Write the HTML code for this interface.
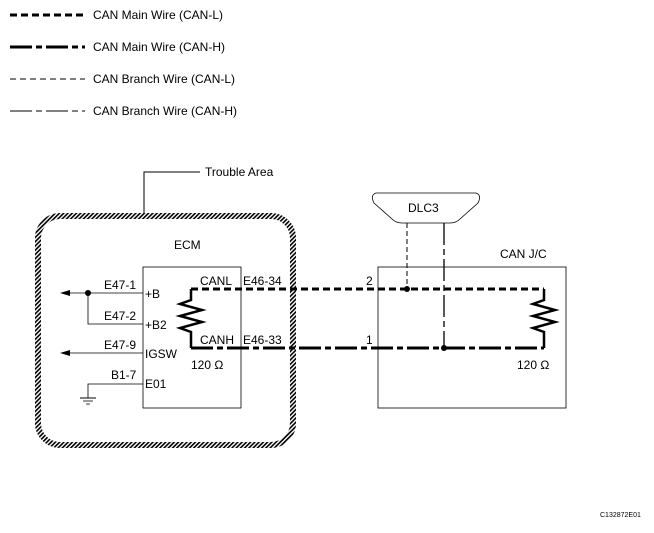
<!DOCTYPE html>
<html><head><style>body{margin:0;background:#fff}</style></head><body>
<svg width="654" height="528" viewBox="0 0 654 528" xmlns="http://www.w3.org/2000/svg" font-family="Liberation Sans, sans-serif" font-size="12" fill="#000">
<defs>
<pattern id="h" width="3" height="3" patternUnits="userSpaceOnUse" patternTransform="rotate(45)"><rect width="1.6" height="3" fill="#000"/></pattern>
</defs>
<!-- legend -->
<line x1="10" y1="15" x2="85" y2="15" stroke="#000" stroke-width="3" stroke-dasharray="7,4"/>
<text x="93" y="19">CAN Main Wire (CAN-L)</text>
<line x1="10" y1="47" x2="85" y2="47" stroke="#000" stroke-width="3" stroke-dasharray="22,4,6,4"/>
<text x="93" y="51">CAN Main Wire (CAN-H)</text>
<line x1="10" y1="79" x2="85" y2="79" stroke="#000" stroke-width="1" stroke-dasharray="6,4"/>
<text x="93" y="83">CAN Branch Wire (CAN-L)</text>
<line x1="10" y1="111" x2="85" y2="111" stroke="#000" stroke-width="1" stroke-dasharray="22,4,6,4"/>
<text x="93" y="115">CAN Branch Wire (CAN-H)</text>
<!-- trouble area -->
<rect x="38" y="216" width="255" height="229" rx="22" fill="none" stroke="url(#h)" stroke-width="6"/>
<polyline points="144,213 144,172 200,172" fill="none" stroke="#000"/>
<text x="205" y="176">Trouble Area</text>
<text x="174" y="249">ECM</text>
<rect x="143" y="267" width="98" height="141" fill="none" stroke="#000" stroke-width="0.8"/>
<!-- left wires -->
<line x1="62" y1="293" x2="143" y2="293" stroke="#000" stroke-width="0.8"/>
<polygon points="60,293 70,290 70,296"/>
<circle cx="88" cy="293" r="3"/>
<polyline points="88,293 88,324 143,324" fill="none" stroke="#000" stroke-width="0.8"/>
<line x1="62" y1="353" x2="143" y2="353" stroke="#000" stroke-width="0.8"/>
<polygon points="60,353 70,350 70,356"/>
<polyline points="143,384 88,384 88,398" fill="none" stroke="#000" stroke-width="0.8"/>
<line x1="80" y1="398" x2="96" y2="398" stroke="#000"/>
<line x1="83" y1="401" x2="93" y2="401" stroke="#000" stroke-width="0.8"/>
<line x1="86" y1="404" x2="90" y2="404" stroke="#000" stroke-width="0.8"/>
<text x="104" y="289">E47-1</text><text x="145" y="298">+B</text>
<text x="104" y="320">E47-2</text><text x="145" y="329">+B2</text>
<text x="104" y="349">E47-9</text><text x="145" y="358">IGSW</text>
<text x="111" y="379">B1-7</text><text x="145" y="388">E01</text>
<!-- ECM resistor -->
<polyline points="191,289 191,300 180,304 202,310 180,316 202,322 180,328 191,332 191,348" fill="none" stroke="#000" stroke-width="2.5"/>
<text x="200" y="285">CANL</text><text x="243" y="285">E46-34</text>
<text x="200" y="344">CANH</text><text x="243" y="344">E46-33</text>
<text x="191" y="369">120 Ω</text>
<!-- main wires -->
<line x1="191" y1="289" x2="544" y2="289" stroke="#000" stroke-width="3" stroke-dasharray="7,4"/>
<line x1="191" y1="348" x2="544" y2="348" stroke="#000" stroke-width="3" stroke-dasharray="22,4,6,4"/>
<!-- DLC3 -->
<path d="M376,193 L476,193 Q482,195 478,203 L460,219 Q456,223 450,223 L402,223 Q396,223 392,219 L374,203 Q370,195 376,193 Z" fill="none" stroke="#000" stroke-width="0.8"/>
<text x="408" y="212">DLC3</text>
<line x1="407" y1="223" x2="407" y2="289" stroke="#000" stroke-dasharray="5,3"/>
<line x1="444" y1="223" x2="444" y2="348" stroke="#000" stroke-width="1.3" stroke-dasharray="22,4,6,4"/>
<circle cx="407" cy="289" r="3"/><circle cx="444" cy="348" r="3"/>
<!-- CAN J/C -->
<text x="500" y="258">CAN J/C</text>
<rect x="378" y="267" width="188" height="141" fill="none" stroke="#000" stroke-width="0.8"/>
<polyline points="544,289 544,300 533,304 555,310 533,316 555,322 533,328 544,332 544,348" fill="none" stroke="#000" stroke-width="2.5"/>
<text x="517" y="369">120 Ω</text>
<text x="366" y="285">2</text><text x="366" y="344">1</text>
<text x="600" y="517" font-size="7">C132872E01</text>
</svg>
</body></html>
